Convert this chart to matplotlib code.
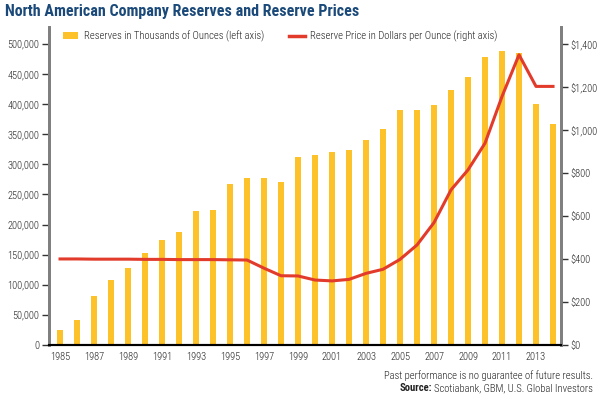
import numpy as np
import matplotlib
matplotlib.use("Agg")
import matplotlib.pyplot as plt
from matplotlib.patches import Patch
from matplotlib.lines import Line2D
from matplotlib.ticker import FuncFormatter, FixedLocator

plt.rcParams["font.family"] = ["Roboto Condensed", "DejaVu Sans"]

# Datos
years = list(range(1985, 2015))
reserves = [25, 42, 82, 108, 128, 153, 174, 188, 222, 224,
            268, 278, 278, 270, 313, 315, 320, 323, 340, 359,
            391, 391, 399, 423, 445, 478, 489, 485, 401, 367]  # miles de onzas (x1000)
reserves = [v * 1000 for v in reserves]
price = [400, 400, 399, 399, 399, 398, 398, 397, 397, 397,
         396, 395, 357, 322, 321, 302, 298, 305, 333, 352,
         398, 465, 569, 721, 814, 938, 1155, 1349, 1202, 1202]

left_ticks = list(range(0, 500001, 50000))
right_ticks = list(range(0, 1401, 200))
year_labels = list(range(1985, 2014, 2))

BAR_COLOR = "#FDC12A"
LINE_COLOR = "#E23B2B"
TITLE_COLOR = "#1B4A7A"
SPINE_GRAY = "#7F7F7F"
TEXT_COLOR = "#222222"
FS = 7.7

fig = plt.figure(figsize=(6.04, 3.99), dpi=100, facecolor="white")
ax = fig.add_axes([0.0811, 0.1353, 0.8477, 0.797])
ax2 = ax.twinx()

ax.bar(years, reserves, width=0.4, color=BAR_COLOR, zorder=2)
ax2.plot(years, price, color=LINE_COLOR, linewidth=2.2, zorder=3)

ax.set_xlim(1984.35, 2014.47)
ax.set_ylim(0, 528000)
ax2.set_ylim(0, 1478)

ax.yaxis.set_major_locator(FixedLocator(left_ticks))
ax.yaxis.set_major_formatter(FuncFormatter(lambda v, p: f"{int(v):,}"))
ax2.yaxis.set_major_locator(FixedLocator(right_ticks))
ax2.yaxis.set_major_formatter(FuncFormatter(lambda v, p: f"${int(v):,}"))
ax.set_xticks(year_labels)
ax.set_xticklabels([str(y) for y in year_labels])

for a in (ax, ax2):
    a.spines["top"].set_visible(False)
    a.spines["left"].set_color(SPINE_GRAY)
    a.spines["left"].set_linewidth(2)
    a.spines["right"].set_color(SPINE_GRAY)
    a.spines["right"].set_linewidth(2)
    a.spines["bottom"].set_color("black")
    a.spines["bottom"].set_linewidth(1.5)

for a in (ax, ax2):
    a.tick_params(axis="y", length=5, width=1, color="#333333", labelsize=7.5,
                  labelcolor=TEXT_COLOR, pad=2)
ax.tick_params(axis="x", length=0, labelsize=7.5, labelcolor=TEXT_COLOR, pad=5)
for lbl in ax.get_xticklabels() + ax.get_yticklabels() + ax2.get_yticklabels():
    lbl.set_fontweight("light")

handles = [
    Patch(facecolor=BAR_COLOR, edgecolor="none", label="Reserves in Thousands of Ounces (left axis)"),
    Line2D([0], [0], color=LINE_COLOR, linewidth=2.5, label="Reserve Price in Dollars per Ounce (right axis)"),
]
leg = ax2.legend(handles=handles, loc="upper left", bbox_to_anchor=(0.008, 1.02), ncol=2,
                 frameon=False, fontsize=FS, handlelength=1.45, handleheight=0.55,
                 columnspacing=2.4, handletextpad=0.5, labelcolor=TEXT_COLOR)
for t in leg.get_texts():
    t.set_fontweight("light")

fig.text(0.009, 0.972, "North American Company Reserves and Reserve Prices",
         fontsize=11.5, fontweight="bold", color=TITLE_COLOR, ha="left", va="center")

fig.text(0.982, 0.058, "Past performance is no guarantee of future results.",
         fontsize=FS, fontweight="light", color=TEXT_COLOR, ha="right", va="center")
src = fig.text(0.982, 0.0276, "Scotiabank, GBM, U.S. Global Investors",
               fontsize=FS, fontweight="light", color=TEXT_COLOR, ha="right", va="center")
fig.canvas.draw()
bb = src.get_window_extent().transformed(fig.transFigure.inverted())
fig.text(bb.x0 - 0.004, 0.0276, "Source:", fontsize=FS, fontweight="bold",
         color=TEXT_COLOR, ha="right", va="center")

fig.savefig("out.png", dpi=100, facecolor="white")
